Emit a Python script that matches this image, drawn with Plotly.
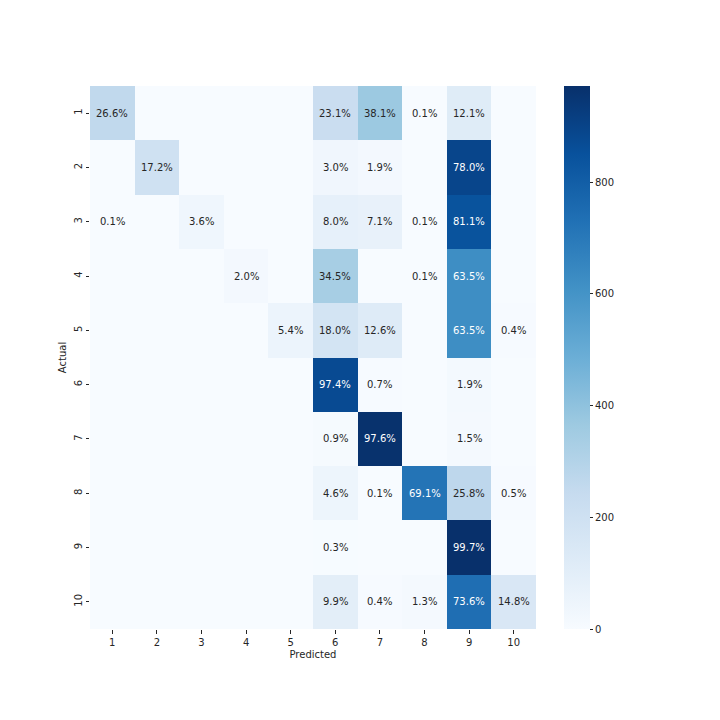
import plotly.graph_objects as go

# confusion matrix, row-normalised percentages (0 = empty cell)
labels = ["1", "2", "3", "4", "5", "6", "7", "8", "9", "10"]
pct = [
    [26.6, 0, 0, 0, 0, 23.1, 38.1, 0.1, 12.1, 0],
    [0, 17.2, 0, 0, 0, 3.0, 1.9, 0, 78.0, 0],
    [0.1, 0, 3.6, 0, 0, 8.0, 7.1, 0.1, 81.1, 0],
    [0, 0, 0, 2.0, 0, 34.5, 0, 0.1, 63.5, 0],
    [0, 0, 0, 0, 5.4, 18.0, 12.6, 0, 63.5, 0.4],
    [0, 0, 0, 0, 0, 97.4, 0.7, 0, 1.9, 0],
    [0, 0, 0, 0, 0, 0.9, 97.6, 0, 1.5, 0],
    [0, 0, 0, 0, 0, 4.6, 0.1, 69.1, 25.8, 0.5],
    [0, 0, 0, 0, 0, 0.3, 0, 0, 99.7, 0],
    [0, 0, 0, 0, 0, 9.9, 0.4, 1.3, 73.6, 14.8],
]
# samples per actual class (estimated from the cell shading)
row_totals = [970, 1145, 1040, 980, 980, 900, 990, 1040, 975, 1005]
cbar_ticks = [0, 200, 400, 600, 800]

counts = [[p * t / 100 for p in row] for row, t in zip(pct, row_totals)]
zmax = max(max(r) for r in counts)

blues = ["#f7fbff", "#deebf7", "#c6dbef", "#9ecae1", "#6baed6",
         "#4292c6", "#2171b5", "#08519c", "#08306b"]
scale = [[i / 8, c] for i, c in enumerate(blues)]


def hex_rgb(h):
    return [int(h[i:i + 2], 16) / 255 for i in (1, 3, 5)]


def blues_at(f):
    f = min(max(f, 0), 1) * 8
    i = min(int(f), 7)
    a, b = hex_rgb(blues[i]), hex_rgb(blues[i + 1])
    t = f - i
    return [a[k] + (b[k] - a[k]) * t for k in range(3)]


def lum(rgb):
    lin = [c / 12.92 if c <= 0.03928 else ((c + 0.055) / 1.055) ** 2.4 for c in rgb]
    return 0.2126 * lin[0] + 0.7152 * lin[1] + 0.0722 * lin[2]


fig = go.Figure(go.Heatmap(
    z=counts, x=labels, y=labels,
    colorscale=scale, zmin=0, zmax=zmax,
    hoverinfo="skip",
    colorbar=dict(
        x=(564 - 90) / 446, xanchor="left", xpad=0, ypad=0,
        thickness=26, len=1, y=0.5, yanchor="middle",
        outlinewidth=0, ticks="outside", ticklen=3.5, tickcolor="#262626",
        tickvals=cbar_ticks, tickfont=dict(size=10, color="#262626"),
    ),
))

annots = []
for i, row in enumerate(pct):
    for j, p in enumerate(row):
        if p == 0:
            continue
        col = "#262626" if lum(blues_at(counts[i][j] / zmax)) > 0.408 else "white"
        # category axes: annotation positions use the category index
        annots.append(dict(x=j, y=i, text=f"{p:.1f}%",
                           showarrow=False, font=dict(size=10, color=col)))

# page body adds an 8px offset, margins compensate for it
fig.update_layout(
    width=720, height=720,
    margin=dict(l=82, r=192, t=78, b=99, autoexpand=False),
    paper_bgcolor="white", plot_bgcolor="white",
    font=dict(family="DejaVu Sans", size=10, color="#262626"),
    annotations=annots,
    xaxis=dict(title=dict(text="Predicted", standoff=4, font=dict(size=10)),
               ticks="outside", ticklen=3.5, type="category",
               tickcolor="#262626", showgrid=False, zeroline=False),
    yaxis=dict(title=dict(text="Actual", standoff=4, font=dict(size=10)),
               ticks="outside", ticklen=3.5, type="category",
               tickcolor="#262626", tickangle=-90, autorange="reversed",
               showgrid=False, zeroline=False),
)

fig.write_html("out.html")
